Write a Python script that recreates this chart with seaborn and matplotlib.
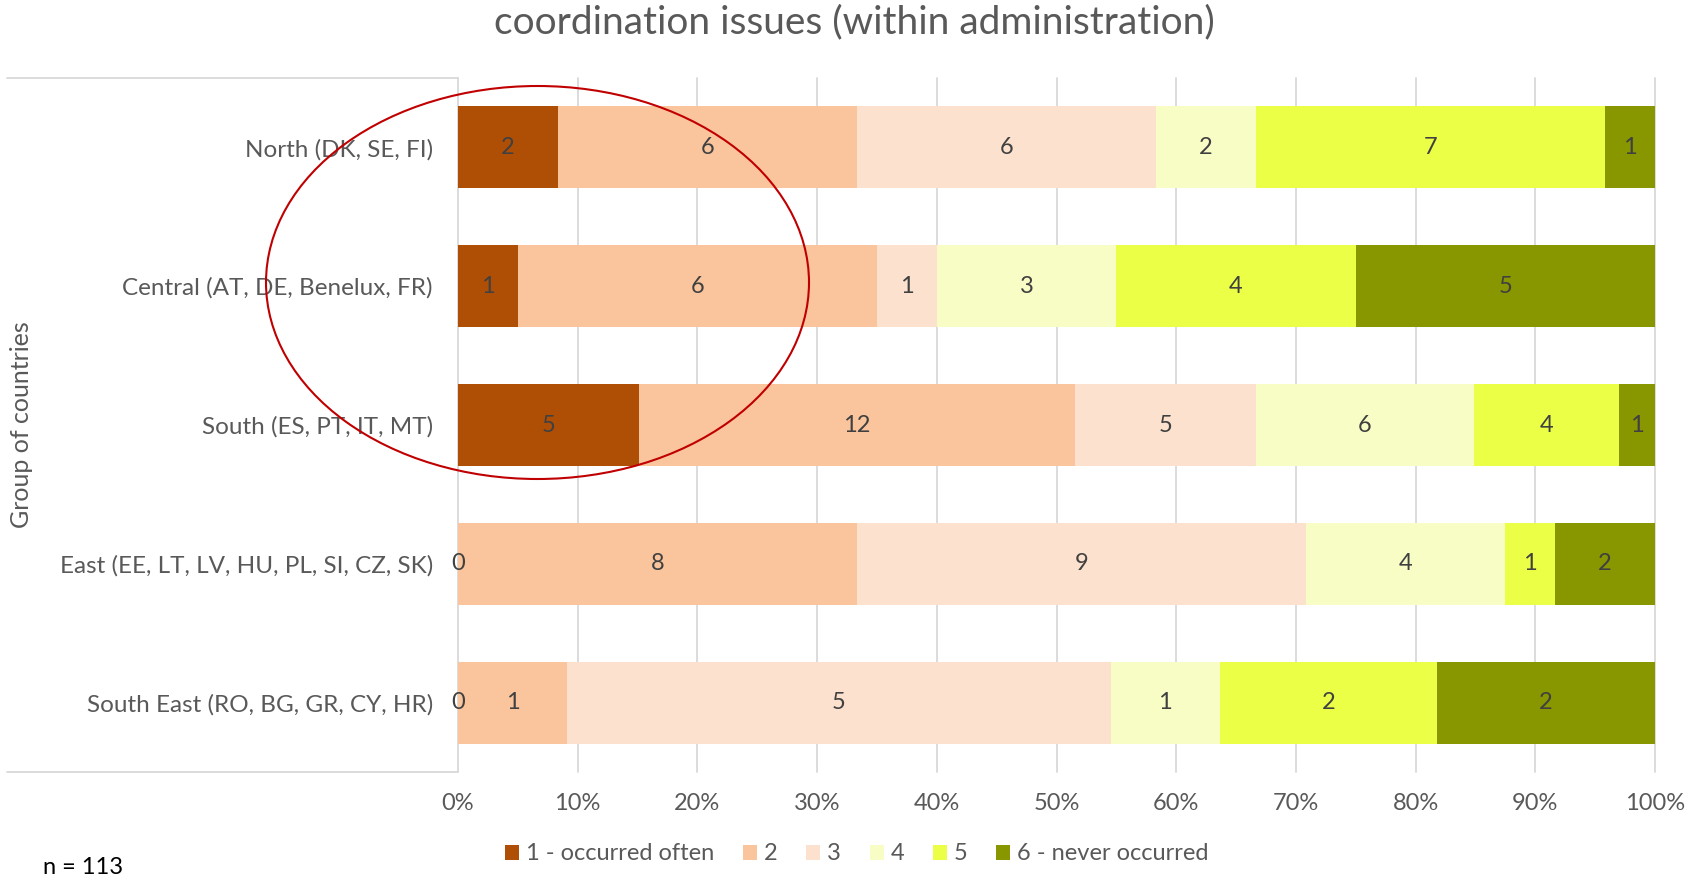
import numpy as np
import pandas as pd
import seaborn as sns
import matplotlib.pyplot as plt
from matplotlib.patches import Patch, Ellipse
from matplotlib.lines import Line2D

## data
groups = ["North (DK, SE, FI)", "Central (AT, DE, Benelux, FR)", "South (ES, PT, IT, MT)",
          "East (EE, LT, LV, HU, PL, SI, CZ, SK)", "South East (RO, BG, GR, CY, HR)"]
levels = ["1 - occurred often", "2", "3", "4", "5", "6 - never occurred"]
lvl1 = [2, 1, 5, 0, 0]
lvl2 = [6, 6, 12, 8, 1]
lvl3 = [6, 1, 5, 9, 5]
lvl4 = [2, 3, 6, 4, 1]
lvl5 = [7, 4, 4, 1, 2]
lvl6 = [1, 5, 1, 2, 2]
colors = ["#AF4F06", "#FAC49C", "#FCE1CE", "#F8FDC6", "#EAFF45", "#889600"]

counts = np.array([lvl1, lvl2, lvl3, lvl4, lvl5, lvl6], dtype=float)
pct = counts / counts.sum(axis=0) * 100
cum = pct.cumsum(axis=0)

sns.set_theme(style="white")
plt.rcParams['font.family'] = ['Lato', 'DejaVu Sans']

fig = plt.figure(figsize=(17, 8.83), dpi=100)
ax = fig.add_axes([458/1700, 1-772/883, (1655-458)/1700, (772-78)/883])

## stacked bars: draw cumulative totals, largest first
for k in range(5, -1, -1):
    df = pd.DataFrame({"group": groups, "value": cum[k]})
    sns.barplot(data=df, x="value", y="group", orient="h", color=colors[k],
                saturation=1, width=0.59, linewidth=0, ax=ax)

## data labels
for k in range(6):
    start = cum[k] - pct[k]
    for i in range(len(groups)):
        ax.text(start[i] + pct[k][i] / 2, i, f"{int(counts[k][i])}", ha="center", va="center",
                fontsize=17, color="#404040")

ax.set_xlim(0, 100)
ax.set_xticks(range(0, 101, 10))
ax.set_xticklabels([f"{v}%" for v in range(0, 101, 10)])
ax.set_ylim(4.5, -0.5)
ax.set_xlabel("")
ax.set_ylabel("")
ax.set_axisbelow(True)
ax.xaxis.grid(True, color="#d9d9d9", linewidth=1.3)
for gl in ax.get_xgridlines():
    gl.set_clip_on(False)
for s in ax.spines.values():
    s.set_visible(False)
ax.tick_params(axis="x", length=0, pad=15, labelsize=17, labelcolor="#595959")
ax.tick_params(axis="y", length=0, pad=18, labelsize=17.5, labelcolor="#595959")

## frame lines left of the plot
for yy in (78, 772):
    fig.add_artist(Line2D([7/1700, 458/1700], [1-yy/883, 1-yy/883], transform=fig.transFigure,
                          color="#d9d9d9", linewidth=1.3))

## red ellipse
fig.add_artist(Ellipse((537.5/1700, 1-282.5/883), 543/1700, 393/883, transform=fig.transFigure,
                       fill=False, edgecolor="#C00000", linewidth=1.5))

fig.text(854/1700, 1-22/883, "coordination issues (within administration)", ha="center", va="center",
         fontsize=28, color="#595959")
fig.text(22/1700, 1-425/883, "Group of countries", rotation=90, ha="center", va="center",
         fontsize=18, color="#595959")
fig.text(43/1700, 1-868/883, "n = 113", ha="left", va="center", fontsize=17, color="black")

handles = [Patch(facecolor=c, edgecolor="none") for c in colors]
fig.legend(handles, levels, loc="center", bbox_to_anchor=(857/1700, 1-854/883), ncol=6,
           frameon=False, fontsize=17, labelcolor="#595959", handlelength=0.6, handleheight=0.6,
           handletextpad=0.3, columnspacing=1.2)

fig.savefig("out.png", dpi=100)
